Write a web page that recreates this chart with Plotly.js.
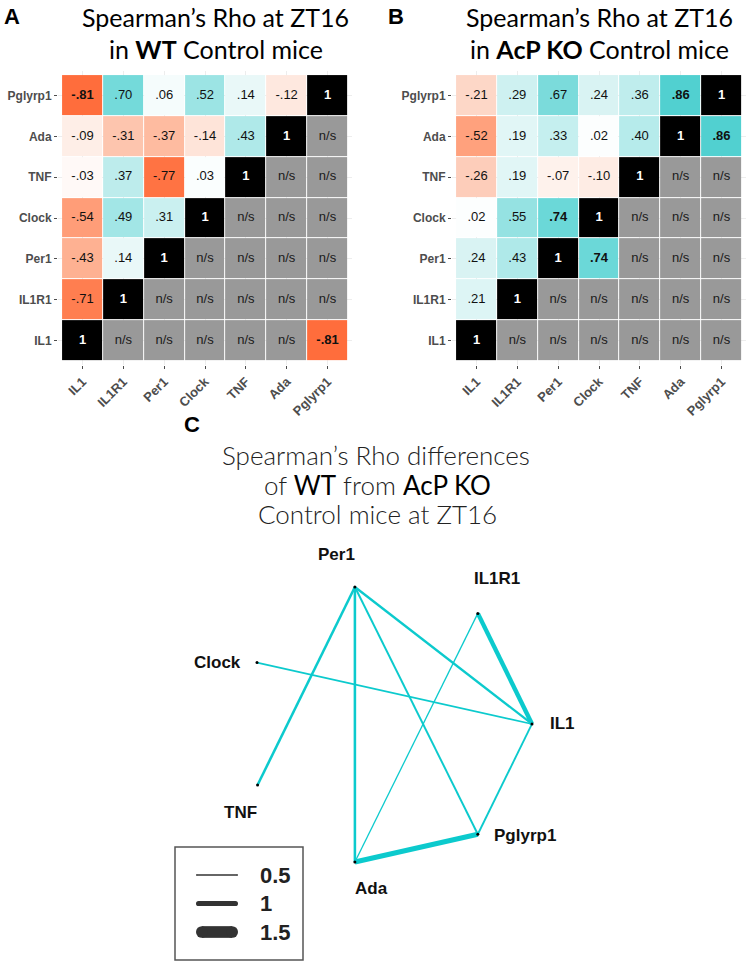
<!DOCTYPE html>
<html>
<head>
<meta charset="utf-8">
<script src="https://cdn.plot.ly/plotly-3.0.1.min.js"></script>
<style>
  html, body { margin: 0; padding: 0; background: #fff; }
  #myPlot { width: 750px; height: 967px; }
</style>
</head>
<body>
<div id="myPlot"></div>
<script>
// gene order: left-to-right on x, bottom-to-top on y
var genes = ['IL1', 'IL1R1', 'Per1', 'Clock', 'TNF', 'Ada', 'Pglyrp1'];

// lower triangle of Spearman's rho: row i = rho of genes[i] with genes[0..i-1]
var rhoWT = [
  [],
  [-0.71],
  [-0.43, 0.14],
  [-0.54, 0.49, 0.31],
  [-0.03, 0.37, -0.77, 0.03],
  [-0.09, -0.31, -0.37, -0.14, 0.43],
  [-0.81, 0.70, 0.06, 0.52, 0.14, -0.12]
];
var rhoKO = [
  [],
  [0.21],
  [0.24, 0.43],
  [0.02, 0.55, 0.74],
  [-0.26, 0.19, -0.07, -0.10],
  [-0.52, 0.19, 0.33, 0.02, 0.40],
  [-0.21, 0.29, 0.67, 0.24, 0.36, 0.86]
];
// significant pairs: bold, and repeated above the diagonal
var sigWT = [['Pglyrp1', 'IL1']];
var sigKO = [['Pglyrp1', 'Ada'], ['Clock', 'Per1']];

// network of rho differences (WT vs AcP KO)
var nodes = ['Per1', 'IL1R1', 'Clock', 'IL1', 'TNF', 'Pglyrp1', 'Ada'];
var nodeX = [0.356, 0.803, 0.0, 1.0, 0.002, 0.803, 0.356];
var nodeY = [0.0, 0.096, 0.275, 0.498, 0.720, 0.899, 1.0];
var edgeFrom = ['Per1', 'Per1', 'Per1', 'Per1', 'Clock', 'IL1R1', 'IL1R1', 'IL1', 'Ada'];
var edgeTo = ['TNF', 'Ada', 'Pglyrp1', 'IL1', 'IL1', 'IL1', 'Ada', 'Pglyrp1', 'Pglyrp1'];
var edgeDiff = [0.70, 0.70, 0.61, 0.67, 0.56, 0.92, 0.50, 0.60, 0.98];
var legendVals = [0.5, 1, 1.5];

// label offsets (px) for the network nodes
var labelDX = [-18, 19, -40, 31, -17, 47, 17];
var labelDY = [32, 35, 0, 0, -27, -1, -26];

var W = 750, H = 967;
var axFont = 'Liberation Sans, Arial, sans-serif';
var titleFont = 'Lato, Open Sans, sans-serif';
var teal = '#0ccacd';

var rhoScale = [
  [0.0, 'rgb(255,80,30)'],
  [0.125, 'rgb(255,118,70)'],
  [0.25, 'rgb(255,165,130)'],
  [0.375, 'rgb(253,207,188)'],
  [0.5, 'rgb(255,255,255)'],
  [0.625, 'rgb(215,243,243)'],
  [0.75, 'rgb(160,229,229)'],
  [0.875, 'rgb(105,215,215)'],
  [1.0, 'rgb(50,200,200)']
];

function px(x) { return x / W; }
function py(y) { return 1 - y / H; }

function fmt(v) {
  var s = Math.abs(v).toFixed(2).replace(/^0/, '');
  return (v < 0 ? '-' : '') + s;
}

function isSig(sig, a, b) {
  for (var k = 0; k < sig.length; k++) {
    if ((sig[k][0] == a && sig[k][1] == b) || (sig[k][0] == b && sig[k][1] == a)) return true;
  }
  return false;
}

function panel(rho, sig, xa, ya) {
  var n = genes.length;
  var zVal = [], zDiag = [], zNS = [];
  var tx = [], ty = [], tt = [], tc = [];
  for (var r = 0; r < n; r++) {
    zVal.push([]); zDiag.push([]); zNS.push([]);
    for (var c = 0; c < n; c++) {
      var v = null, d = null, ns = null, txt, col = '#111';
      var bold = isSig(sig, genes[r], genes[c]);
      if (r == c) {
        d = 1; txt = '<b>1</b>'; col = '#fff';
      } else if (c < r) {
        v = rho[r][c];
        txt = bold ? '<b>' + fmt(v) + '</b>' : fmt(v);
      } else if (bold) {
        v = rho[c][r];
        txt = '<b>' + fmt(v) + '</b>';
      } else {
        ns = 0; txt = 'n/s'; col = '#1a1a1a';
      }
      zVal[r].push(v); zDiag[r].push(d); zNS[r].push(ns);
      tx.push(genes[c]); ty.push(genes[r]); tt.push(txt); tc.push(col);
    }
  }
  var base = {type: 'heatmap', x: genes, y: genes, xaxis: xa, yaxis: ya,
              showscale: false, xgap: 1, ygap: 1, hoverinfo: 'skip'};
  return [
    Object.assign({}, base, {z: zVal, colorscale: rhoScale, zmin: -1, zmax: 1}),
    Object.assign({}, base, {z: zDiag, colorscale: [[0, '#000'], [1, '#000']]}),
    Object.assign({}, base, {z: zNS, colorscale: [[0, '#999999'], [1, '#999999']]}),
    {type: 'scatter', mode: 'text', x: tx, y: ty, text: tt, xaxis: xa, yaxis: ya,
     textfont: {family: axFont, size: 13, color: tc}, hoverinfo: 'skip',
     showlegend: false, cliponaxis: false}
  ];
}

var data = panel(rhoWT, sigWT, 'x', 'y').concat(panel(rhoKO, sigKO, 'x2', 'y2'));

// network edges
function edgeWidth(d) { return 5.2 * d * d; }
for (var i = 0; i < edgeFrom.length; i++) {
  var a = nodes.indexOf(edgeFrom[i]), b = nodes.indexOf(edgeTo[i]);
  data.push({
    type: 'scatter', mode: 'lines', x: [nodeX[a], nodeX[b]], y: [nodeY[a], nodeY[b]],
    xaxis: 'x3', yaxis: 'y3', line: {color: teal, width: edgeWidth(edgeDiff[i])},
    hoverinfo: 'skip', showlegend: false
  });
}
data.push({
  type: 'scatter', mode: 'markers', x: nodeX, y: nodeY, xaxis: 'x3', yaxis: 'y3',
  marker: {color: '#000', size: 3}, hoverinfo: 'skip', showlegend: false
});

// width key
for (var j = 0; j < legendVals.length; j++) {
  var w = edgeWidth(legendVals[j]);
  var ly = 875 + 28.5 * j;
  data.push({
    type: 'scatter', mode: 'lines+markers', x: [196 + w / 2, 238 - w / 2], y: [ly, ly],
    xaxis: 'x4', yaxis: 'y4', line: {color: '#333', width: w},
    marker: {color: '#333', size: w, line: {width: 0}},
    hoverinfo: 'skip', showlegend: false
  });
}

function heatX(x0, x1) {
  return {
    domain: [px(x0), px(x1)], type: 'category', categoryorder: 'array', categoryarray: genes,
    range: [-0.6, 6.6], tickangle: -45, ticks: 'outside', ticklen: 3, tickcolor: '#4d4d4d',
    tickfont: {family: axFont, size: 13, color: '#4d4d4d', weight: 'bold'},
    showgrid: true, gridcolor: '#ededed', zeroline: false, showline: false, fixedrange: true
  };
}
function heatY() {
  return {
    domain: [py(365), py(71)], type: 'category', categoryorder: 'array', categoryarray: genes,
    range: [-0.6, 6.6], ticks: 'outside', ticklen: 3, tickcolor: '#4d4d4d',
    tickfont: {family: axFont, size: 12, color: '#4d4d4d', weight: 'bold'},
    showgrid: true, gridcolor: '#ededed', zeroline: false, showline: false, fixedrange: true
  };
}

var annotations = [];
function note(text, x, y, font, extra) {
  annotations.push(Object.assign({text: text, x: px(x), y: py(y), xref: 'paper', yref: 'paper',
    showarrow: false, xanchor: 'center', yanchor: 'middle', font: font}, extra || {}));
}
var tFont = {family: titleFont, size: 25, color: '#000'};
var lFont = {family: axFont, size: 22, color: '#000', weight: 'bold'};
note('A', 12, 16, lFont);
note('B', 396, 16, lFont);
note('C', 192, 425, lFont);
note('Spearman\u2019s Rho at ZT16', 216, 17, tFont);
note('in <b>WT</b> Control mice', 216, 49, tFont);
note('Spearman\u2019s Rho at ZT16', 599, 17, tFont);
note('in <b>AcP KO</b> Control mice', 599, 49, tFont);

var cFont = {family: titleFont, size: 26, color: '#222', weight: 300};
note('Spearman\u2019s Rho differences', 376, 455, cFont);
note('of <span style="font-weight:400;fill:#000">WT</span> from <span style="font-weight:400;fill:#000">AcP KO</span>', 377, 485, cFont);
note('Control mice at ZT16', 377, 514, cFont);

for (var k = 0; k < nodes.length; k++) {
  annotations.push({text: nodes[k], x: nodeX[k], y: nodeY[k], xref: 'x3', yref: 'y3',
    xshift: labelDX[k], yshift: labelDY[k], showarrow: false,
    font: {family: axFont, size: 17, color: '#111', weight: 'bold'}});
}
for (var m = 0; m < legendVals.length; m++) {
  annotations.push({text: String(legendVals[m]), x: 258, y: 875 + 28.5 * m, xref: 'x4', yref: 'y4',
    xanchor: 'left', yanchor: 'middle', showarrow: false,
    font: {family: axFont, size: 22, color: '#222', weight: 'bold'}});
}

var hidden = {visible: false, fixedrange: true};
var layout = {
  width: W, height: H,
  margin: {l: 0, r: 0, t: 0, b: 0},
  paper_bgcolor: '#fff', plot_bgcolor: '#fff',
  hovermode: false, showlegend: false,
  xaxis: Object.assign(heatX(58, 352), {anchor: 'y'}),
  yaxis: Object.assign(heatY(), {anchor: 'x'}),
  xaxis2: Object.assign(heatX(452, 746), {anchor: 'y2'}),
  yaxis2: Object.assign(heatY(), {anchor: 'x2'}),
  xaxis3: Object.assign({domain: [0.2, 0.8], range: [-0.3891, 1.2473], anchor: 'y3'}, hidden),
  yaxis3: Object.assign({domain: [0, 0.45], range: [1.3818, -0.2005], anchor: 'x3'}, hidden),
  xaxis4: Object.assign({domain: [px(150), px(320)], range: [150, 320], anchor: 'y4'}, hidden),
  yaxis4: Object.assign({domain: [py(967), py(830)], range: [967, 830], anchor: 'x4'}, hidden),
  shapes: [{type: 'rect', xref: 'x4', yref: 'y4', x0: 175, x1: 303, y0: 847, y1: 960,
            line: {color: '#555', width: 1.5}}],
  annotations: annotations
};

Plotly.newPlot('myPlot', data, layout, {staticPlot: true, displayModeBar: false});
</script>
</body>
</html>
